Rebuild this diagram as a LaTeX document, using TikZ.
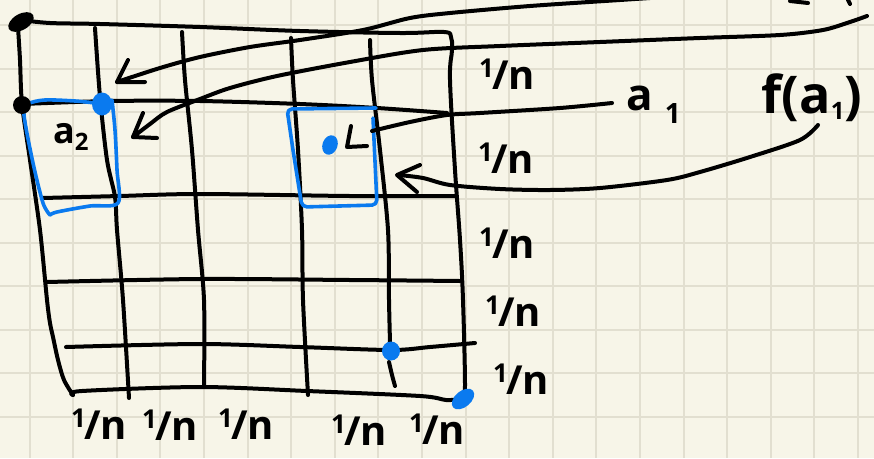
\documentclass[tikz,border=0pt]{standalone}
\usepackage{fontspec}
\setmainfont{Open Sans}
\definecolor{paper}{HTML}{F7F5E8}
\definecolor{gridc}{HTML}{E2DFD0}
\definecolor{pen}{HTML}{0A7AEF}
\newcommand{\ofn}{\raisebox{0.3em}{\fontsize{26}{26}\selectfont 1}\kern-2pt/n}
\begin{document}
\begin{tikzpicture}[x=1pt,y=-1pt,
  ink/.style={line width=4pt,line cap=round,line join=round,draw=black},
  blueink/.style={line width=3.6pt,line cap=round,line join=round,draw=pen},
  lbl/.style={font=\fontsize{40}{40}\selectfont\bfseries,inner sep=0pt},
  hand/.style={inner sep=0pt,anchor=base west}]
\fill[paper] (0,0) rectangle (874,458);
\useasboundingbox (0,0) rectangle (874,458);
% paper grid
\foreach \i in {0,...,19} \draw[gridc,line width=2pt] ({29.6+43.6*\i},0) -- ({29.6+43.6*\i},458);
\foreach \j in {0,...,9} \draw[gridc,line width=2pt] (0,{25+43.55*\j}) -- (874,{25+43.55*\j});

% outer frame
\draw[ink] plot[smooth,tension=0.6] coordinates {(22,20) (50,23) (100,24) (200,27) (300,31) (400,33) (444,32) (451,37) (452,50) (450,80) (455,170) (460,240) (463,300) (465,385) (463,398)};
\draw[ink] plot[smooth] coordinates {(18,27) (20,60) (22,104) (30,160) (40,230) (47,300) (50,323) (53,337) (58,360) (64,380) (73,395)};
\draw[ink] plot[smooth] coordinates {(73,395) (82,391) (200,387) (307,391) (420,396) (446,400) (460,399)};

% rows
\draw[ink] plot[smooth] coordinates {(22,104) (110,101) (200,101) (300,104) (377,108) (447,113)};
\draw[ink] plot[smooth] coordinates {(43,198) (120,196) (200,194) (350,196) (455,196)};
\draw[ink] plot[smooth] coordinates {(47,282) (200,279) (350,280) (460,281)};
\draw[ink] plot[smooth] coordinates {(66,347) (200,344) (300,347) (391,350) (430,347) (475,343)};

% columns
\draw[ink] plot[smooth] coordinates {(95,28) (100,97) (107,160) (115,197) (117,230) (123,300) (129,398)};
\draw[ink] plot[smooth] coordinates {(182,32) (185,80) (192,150) (198,230) (204,300) (204,385)};
\draw[ink] plot[smooth] coordinates {(291,38) (293,80) (298,150) (302,230) (303,300) (308,395)};
\draw[ink] plot[smooth] coordinates {(370,40) (372,80) (380,150) (388,230) (389,300) (390,343)};
\draw[ink] plot[smooth] coordinates {(389,362) (392,375) (395,386)};

% blue boxes
\draw[blueink] plot[smooth] coordinates {(50,215) (43,203) (33,163) (24,115) (28,104) (45,100) (75,101) (95,103)};
\draw[blueink] plot[smooth] coordinates {(112,100) (115,130) (117,170) (118,203) (90,206) (57,212) (50,215)};
\draw[blueink,rounded corners=5pt] (373,118) -- (377,205) -- (302,207) -- (293,150) -- (287,109) -- (376,108);

% dots
\fill[rotate around={30:(21,22)}] (21,22) ellipse [x radius=14, y radius=8];
\fill (22,105) circle (9);
\fill[pen] (102,104) ellipse [x radius=10, y radius=11.5];
\fill[pen,rotate around={-20:(330,145)}] (330,145) ellipse [x radius=7.5, y radius=10];
\fill[pen] (391,351) ellipse [x radius=9, y radius=9.5];
\fill[pen,rotate around={40:(463,399)}] (463,399) ellipse [x radius=13, y radius=8];

% long arrow A (to upper left)
\draw[ink] plot[smooth] coordinates {(117,82) (160,68) (200,57) (250,47) (300,40) (363,30) (410,18) (450,13) (530,6) (620,0) (680,-4)};
\draw[ink] (128,60) -- (117,82) -- (145,82);
% long arrow B
\draw[ink] plot[smooth] coordinates {(133,137) (150,124) (167,112) (200,99) (230,88) (277,76) (350,62) (423,50) (500,46) (600,42) (700,38) (780,35) (823,30) (850,22) (867,16)};
\draw[ink] (143,113) -- (133,137) -- (157,138);
% arrow from a1
\draw[ink] plot[smooth] coordinates {(612,103) (560,108) (480,113) (447,115) (410,122) (372,131)};
\draw[ink] (351,126) -- (347,147) -- (367,146);
% arrow from f(a1)
\draw[ink] plot[smooth] coordinates {(818,125) (800,140) (750,157) (700,172) (667,180) (600,188) (550,190) (500,189) (450,185) (423,178) (399,175)};
\draw[ink] (420,165) -- (397,175) -- (417,192);

% cut-off marks at the top edge
\draw[ink] (790,1) -- (808,3);
\draw[ink] (848,0) -- (850,4);

% labels
\node[lbl] (r1) at (507,74) {\ofn};
\node[lbl] (r2) at (506,158) {\ofn};
\node[lbl] (r3) at (507,243) {\ofn};
\node[lbl] (r4) at (513,311) {\ofn};
\node[lbl] (r5) at (521,379) {\ofn};
\node[lbl] (b1) at (99,424) {\ofn};
\node[lbl] (b2) at (170,425) {\ofn};
\node[lbl] (b3) at (246,424) {\ofn};
\node[lbl] (b4) at (359,430) {\ofn};
\node[lbl] (b5) at (437,429) {\ofn};
\node[hand,font=\fontsize{44}{44}\selectfont\bfseries] (a1) at (626,110) {a\kern12pt\raisebox{-13pt}{\fontsize{28}{28}\selectfont 1}};
\node[inner sep=0pt,anchor=base,font=\fontsize{52}{52}\selectfont\bfseries] (fa) at (812,113) {f(a\raisebox{-6pt}{\fontsize{24}{24}\selectfont 1})};
\node[hand,font=\fontsize{36}{36}\selectfont\bfseries] (a2) at (53,143) {a\raisebox{-7pt}{\fontsize{24}{24}\selectfont 2}};
\end{tikzpicture}
\end{document}
